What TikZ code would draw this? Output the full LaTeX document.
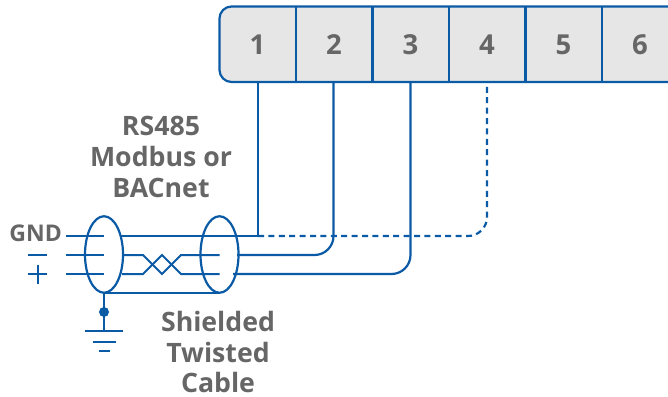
\documentclass[tikz,border=0pt]{standalone}
\usepackage{fontspec}
\setmainfont{Open Sans}
\usetikzlibrary{calc,shapes.geometric}
\definecolor{wire}{HTML}{0B5AA6}
\definecolor{label}{HTML}{666666}
\definecolor{panel}{HTML}{E6E6E6}
\tikzset{
  wireline/.style={draw=wire,line width=2.2pt},
  thin wire/.style={draw=wire,line width=2pt},
  terminal/.style={minimum width=76.6pt,minimum height=76pt,inner sep=0pt,text=label,font=\bfseries\fontsize{27.5}{27.5}\selectfont},
  caption/.style={text=label,font=\bfseries\fontsize{26.7}{30.7}\selectfont,align=center,inner sep=0pt},
  sideL/.style={text=label,font=\bfseries\fontsize{23}{23}\selectfont,inner sep=0pt},
  shield/.style={draw=wire,line width=2.2pt,ellipse,minimum width=38pt,minimum height=76.5pt,inner sep=0pt}
}
\begin{document}
\begin{tikzpicture}[x=1pt,y=-1pt]
\path[use as bounding box,clip] (0,0) rectangle (668,396);
% terminal strip
\path[fill=panel,wireline,rounded corners=12pt] (219.5,6.5) rectangle (700,82);
\foreach \n/\x in {1/257.5,2/334,3/410.5,4/487,5/563.5,6/640}{
  \node[terminal] (t\n) at (\x,45) {\n};
}
\foreach \x in {296,372.5,449,525.5,602}{\draw[wireline] (\x,6.5) -- (\x,82);}
% shields
\node[shield] (s1) at (104,254.5) {};
\node[shield] (s2) at (219.5,254.5) {};
% labels
\node[caption] (top) at (161,157) {RS485\\Modbus or\\BACnet};
\node[caption] (bot) at (218,352) {Shielded\\Twisted\\Cable};
\node[sideL,anchor=east] (gnd) at (62,233.5) {GND};
% named free ends
\coordinate (g) at (66,236);
\coordinate (m) at (66,255);
\coordinate (p) at (66,274);
\coordinate (gc) at (104,236);
\coordinate (mc) at (104,255);
\coordinate (pc) at (104,274);
\coordinate (s1b) at (104,293);
\coordinate (s2b) at (219.5,293);
\coordinate (j) at (258,236);
% left stubs
\draw[thin wire] (g) -- (gc);
\draw[thin wire] (m) -- (mc);
\draw[thin wire] (p) -- (pc);
% signs
\draw[thin wire] (28,255) -- (47,255);
\draw[thin wire] (28,274) -- (47,274);
\draw[thin wire] (37.5,264.5) -- (37.5,284);
% twisted pair
\draw[thin wire] (122,255) -- (143,255) -- (162,274) -- (181,255) -- (219.5,255);
\draw[thin wire] (122,274) -- (143,274) -- (162,255) -- (181,274) -- (219.5,274);
% shield bottom and earth
\draw[thin wire] (s1b) -- (s2b);
\draw[thin wire] (s1b) -- (104,331);
\fill[wire] (104,312) circle (5pt);
\draw[thin wire] (85,331) -- (123,331);
\draw[thin wire] (93,341.5) -- (116,341.5);
\draw[thin wire] (99,351) -- (110,351);
% cable conductors
\draw[wireline] (121,236) -- (j) -- (258,82);
\draw[wireline,rounded corners=19pt] (237,255) -- (333.5,255) -- (333.5,82);
\draw[wireline,rounded corners=19pt] (233,274) -- (410.5,274) -- (410.5,82);
\draw[wireline,dash pattern=on 6pt off 4.4pt,rounded corners=19pt] (j) -- (487,236) -- (487,82);
\end{tikzpicture}
\end{document}
